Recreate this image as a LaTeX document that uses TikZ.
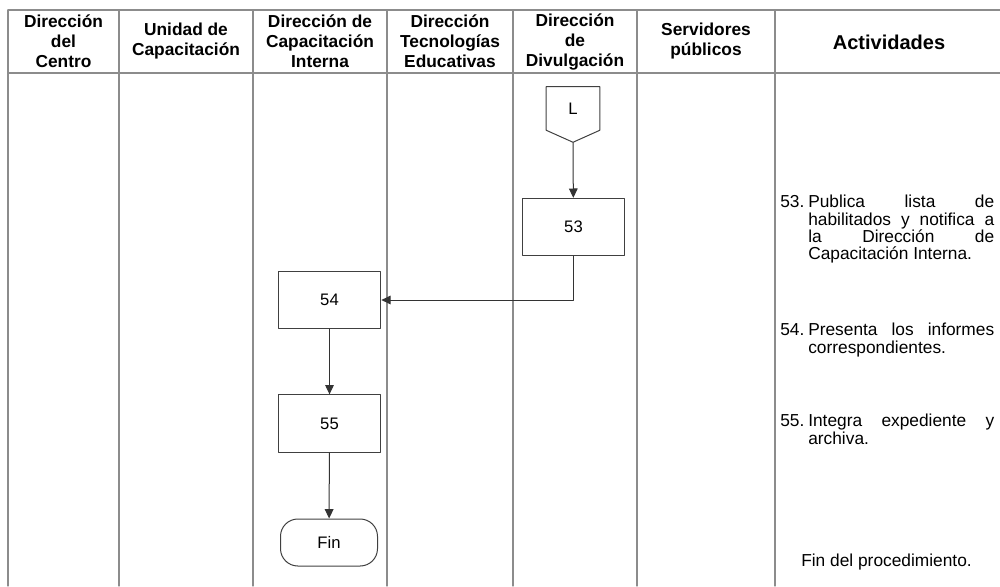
\documentclass[tikz,border=0pt]{standalone}
\usepackage{fontspec}
\setmainfont{Liberation Sans}
\usetikzlibrary{arrows.meta,positioning}
\newcommand\actno[1]{\noindent\llap{\makebox[21pt][l]{#1}}}
\begin{document}
\begin{tikzpicture}[x=0.75pt, y=-0.75pt, line join=round, line cap=round, >={Triangle[length=7pt,width=6.5pt]},
	lane/.style={draw=black!45, line width=0.9pt},
	head/.style={align=center, font=\bfseries\fontsize{13}{15}\selectfont},
	proc/.style={draw=black!75, line width=0.75pt, minimum width=77pt, minimum height=43pt, inner sep=0pt, font=\fontsize{12.5}{14}\selectfont},
	flow/.style={draw=black!80, line width=0.75pt, ->},
	act/.style={anchor=north west, inner sep=0pt, text width=139.5pt, align=justify, font=\fontsize{13}{13}\selectfont}]
	\def\top{10}
	\def\mid{73}
	\def\bot{586}
	\useasboundingbox (0,0) rectangle (1000,586);
	\foreach \x in {8,119,253,387,513,637,775}
	\draw[lane] (\x,\top)--(\x,\bot);
	\draw[lane] (8,\top)--(1000,\top);
	\draw[lane] (8,\mid)--(1000,\mid);
	\foreach \x/\t/\n in {63.5/{Dirección\\del\\Centro}/dc,186/{Unidad de\\Capacitación}/uc,320/{Dirección de\\Capacitación\\Interna}/dci,450/{Dirección\\Tecnologías\\Educativas}/dte,575/{Dirección\\de\\Divulgación}/dd,706/{Servidores\\públicos}/sp}
	\node[head] (h\n) at (\x,41.5) {\t};
	\node[head, font=\bfseries\fontsize{15}{17}\selectfont] (hact) at (889,42) {Actividades};
	\node[minimum width=39.75pt, minimum height=32.25pt, inner sep=0pt, font=\fontsize{12.5}{14}\selectfont] (L) at (573,108.5) {L};
	\path (L.south)+(0,12) coordinate (Ltip);
	\draw[draw=black!75, line width=0.75pt] (L.south west)--(L.north west)--(L.north east)--(L.south east)--(Ltip)--cycle;
	\node[proc] (n53) at (573.5,227) {53};
	\node[proc] (n54) at (329.5,300) {54};
	\node[proc] (n55) at (329.5,423.5) {55};
	\node[proc, minimum width=72.75pt, minimum height=35.25pt, rounded corners=13pt] (fin) at (329,542.5) {Fin};
	\draw[flow] (Ltip)--(n53);
	\draw[flow] (n53.south) |- (n54.east);
	\draw[flow] (n54)--(n55);
	\draw[flow] (n55)--(fin);
	\node[act] (a53) at (808,195) {\actno{53.}Publica lista de\linebreak habilitados y notifica a\linebreak la Dirección de\linebreak Capacitación Interna.};
	\node[act] (a54) at (808,323) {\actno{54.}Presenta los informes\linebreak correspondientes.};
	\node[act] (a55) at (808,414) {\actno{55.}Integra expediente y\linebreak archiva.};
	\node[anchor=west, inner sep=0pt, font=\fontsize{13}{13}\selectfont] (afin) at (801,562) {Fin del procedimiento.};
\end{tikzpicture}
\end{document}
